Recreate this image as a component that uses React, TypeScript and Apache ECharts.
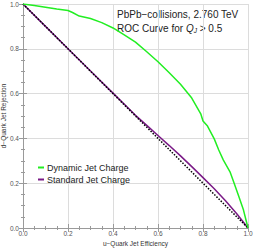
import React, { useEffect, useRef } from "react";
import * as echarts from "echarts";

const dynamicEff = [0, 0.05, 0.1, 0.15, 0.2, 0.22, 0.25, 0.3, 0.35, 0.4, 0.45, 0.5, 0.55, 0.6, 0.65, 0.7, 0.75, 0.79, 0.8, 0.82, 0.85, 0.87, 0.89, 0.92, 0.94, 0.96, 0.98, 1.0];
const dynamicRej = [1, 0.993, 0.986, 0.978, 0.971, 0.962, 0.946, 0.935, 0.917, 0.893, 0.862, 0.83, 0.787, 0.742, 0.693, 0.642, 0.58, 0.51, 0.478, 0.455, 0.398, 0.348, 0.304, 0.251, 0.195, 0.138, 0.08, 0];

const standardEff = [0, 0.1, 0.2, 0.3, 0.4, 0.5, 0.55, 0.6, 0.65, 0.7, 0.75, 0.8, 0.85, 0.9, 0.95, 1.0];
const standardRej = [1, 0.9, 0.8, 0.701, 0.602, 0.503, 0.458, 0.413, 0.368, 0.322, 0.274, 0.225, 0.175, 0.122, 0.064, 0];

const diagonal = [[0, 1], [1, 0]];

const seriesNames = ["Dynamic Jet Charge", "Standard Jet Charge"];
const titleLine1 = "PbPb\u2212collisions, 2.760 TeV";
const xName = "u\u2212Quark Jet Efficiency";
const yName = "d\u2212Quark Jet Rejection";

const FONT = "Liberation Sans, Arial, sans-serif";

export default function App() {
  const ref = useRef<HTMLDivElement>(null);
  useEffect(() => {
    if (!ref.current) return;
    const chart = echarts.init(ref.current, null, { renderer: "svg" });
    const frame = "#9a9a9a";
    const tickLabel = { color: "#555", fontSize: 6.5, fontFamily: FONT };
    const baseAxis = (pos: string, showLabel: boolean) => ({
      type: "value",
      min: 0,
      max: 1,
      interval: 0.2,
      position: pos,
      axisLine: { show: true, lineStyle: { color: frame, width: 1 } },
      axisTick: { show: true, inside: true, length: 4, lineStyle: { color: frame } },
      minorTick: { show: true, splitNumber: 4, length: 2, lineStyle: { color: frame } },
      splitLine: { show: showLabel, lineStyle: { color: "#dcdcdc", width: 1 } },
      axisLabel: { show: showLabel, ...tickLabel, formatter: (v: number) => v.toFixed(1) },
    });
    const xBottom: any = {
      ...baseAxis("bottom", true),
      name: xName,
      nameLocation: "middle",
      nameGap: 12,
      nameMoveOverlap: false,
      nameTextStyle: { fontSize: 6.5, color: "#333", fontFamily: FONT },
    };
    xBottom.axisLabel.margin = 2;
    const yLeft: any = {
      ...baseAxis("left", true),
      name: yName,
      nameLocation: "middle",
      nameGap: 16,
      nameMoveOverlap: false,
      nameTextStyle: { fontSize: 6.5, color: "#333", fontFamily: FONT },
    };
    yLeft.axisLabel.margin = 4;
    const option: any = {
      animation: false,
      backgroundColor: "#fff",
      grid: { left: 23, right: 5, top: 4, bottom: 22, containLabel: false, outerBoundsMode: "none" },
      xAxis: [xBottom, baseAxis("top", false)],
      yAxis: [yLeft, baseAxis("right", false)],
      legend: {
        orient: "vertical",
        left: 33,
        top: 158,
        itemWidth: 6,
        itemHeight: 2,
        itemGap: 3,
        icon: "rect",
        data: seriesNames,
        textStyle: { fontSize: 9, color: "#222", fontFamily: FONT, padding: [0, 0, 0, -2] },
      },
      graphic: [
        {
          type: "text",
          left: 117,
          top: 9,
          style: { text: titleLine1, fontSize: 10, fill: "#222", fontFamily: FONT },
        },
        {
          type: "text",
          left: 117,
          top: 23,
          style: {
            text: "ROC Curve for {i|Q}{s|J} > 0.5",
            fontSize: 10,
            fill: "#222",
            fontFamily: FONT,
            rich: {
              i: { fontStyle: "italic", fontSize: 10, fontFamily: FONT, fill: "#222" },
              s: { fontStyle: "italic", fontSize: 6.5, fontFamily: FONT, fill: "#222", padding: [4, 0, 0, 0] },
            },
          },
        },
      ],
      series: [
        {
          name: seriesNames[1],
          type: "line",
          showSymbol: false,
          data: standardEff.map((e, i) => [e, standardRej[i]]),
          lineStyle: { color: "#7a1a86", width: 1.5 },
          itemStyle: { color: "#7a1a86" },
          z: 2,
        },
        {
          name: "diag",
          type: "line",
          showSymbol: false,
          data: diagonal,
          lineStyle: { color: "#000", width: 1.5, type: [1.5, 1.5] },
          itemStyle: { color: "#000" },
          z: 3,
        },
        {
          name: seriesNames[0],
          type: "line",
          showSymbol: false,
          data: dynamicEff.map((e, i) => [e, dynamicRej[i]]),
          lineStyle: { color: "#22ee22", width: 1.5 },
          itemStyle: { color: "#22ee22" },
          z: 4,
        },
      ],
    };
    chart.setOption(option);
    return () => chart.dispose();
  }, []);
  return <div ref={ref} style={{ width: 253, height: 250, position: "absolute", left: 0, top: 0 }} />;
}
